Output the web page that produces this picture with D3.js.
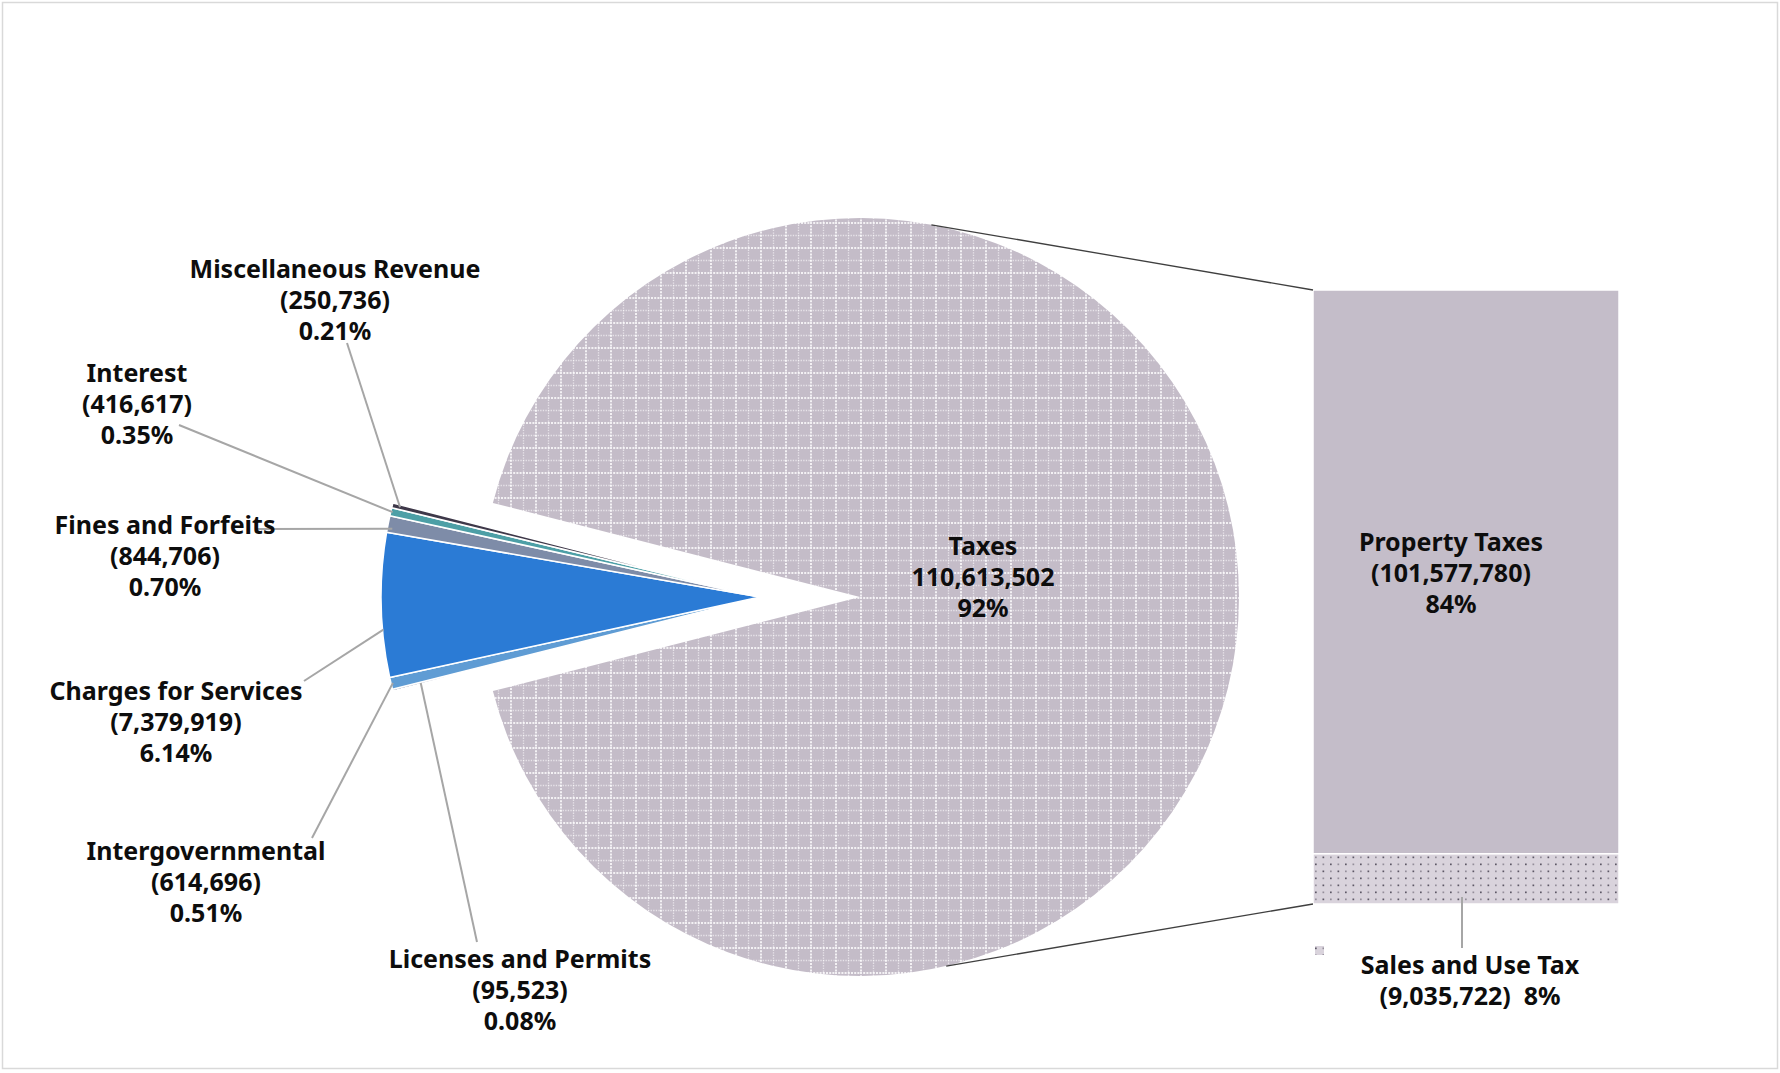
<!DOCTYPE html>
<html>
<head>
<meta charset="utf-8">
<script src="https://cdn.jsdelivr.net/npm/d3@7"></script>
<style>
  html, body { margin: 0; padding: 0; background: #ffffff; }
  svg { display: block; }
  .lbl { font-family: "Noto Sans", "DejaVu Sans", sans-serif; font-weight: 700; fill: #0d0d0d; white-space: pre; }
</style>
</head>
<body>
<script>
// General Fund revenue sources
const categories = ["Licenses and Permits", "Intergovernmental", "Charges for Services",
                    "Fines and Forfeits", "Interest", "Miscellaneous Revenue", "Taxes"];
const values = [95523, 614696, 7379919, 844706, 416617, 250736, 110613502];
const sliceColors = ["#2f3a64", "#5f9cd4", "#2b7bd5", "#7e8ca8", "#4d9fa6", "#3e3849", "url(#gridFill)"];

// Breakdown of the Taxes slice
const taxCategories = ["Property Taxes", "Sales and Use Tax"];
const taxValues = [101577780, 9035722];
const taxColors = ["#c4bdc9", "url(#dotFill)"];

const W = 1780, H = 1073;
const total = d3.sum(values);
const pct2 = d3.format(".2%"), pct0 = d3.format(".0%"), num = d3.format(",");

const svg = d3.select("body").append("svg").attr("width", W).attr("height", H);

// ---- fill patterns ----
const defs = svg.append("defs");
const grid = defs.append("pattern").attr("id", "gridFill")
  .attr("patternUnits", "userSpaceOnUse").attr("width", 25).attr("height", 25);
grid.append("rect").attr("width", 25).attr("height", 25).attr("fill", "#c4bcc8");
[[1, 2, "#f3f1f4", "2 1.2"], [13.5, 1.3, "rgba(255,255,255,0.6)", "1.3 1.3"]].forEach(([p, w, c, da]) => {
  grid.append("line").attr("x1", p).attr("x2", p).attr("y1", 0).attr("y2", 25)
    .attr("stroke", c).attr("stroke-width", w).attr("stroke-dasharray", da);
  grid.append("line").attr("y1", p).attr("y2", p).attr("x1", 0).attr("x2", 25)
    .attr("stroke", c).attr("stroke-width", w).attr("stroke-dasharray", da);
});
const dots = defs.append("pattern").attr("id", "dotFill")
  .attr("patternUnits", "userSpaceOnUse").attr("width", 15).attr("height", 14);
dots.append("rect").attr("width", 15).attr("height", 14).attr("fill", "#d9d3dc");
[[2.5, 2.5, "#5d5866"], [10, 2.5, "#948e9a"], [2.5, 9.5, "#948e9a"], [10, 9.5, "#5d5866"]].forEach(([x, y, c]) => {
  dots.append("rect").attr("x", x).attr("y", y).attr("width", 1.7).attr("height", 1.7).attr("fill", c);
});

// ---- frame ----
svg.append("rect").attr("x", 2.5).attr("y", 2.5).attr("width", W - 5).attr("height", H - 7)
  .attr("fill", "none").attr("stroke", "#d9d9d9").attr("stroke-width", 1.5);

// ---- pie ----
const cx = 860, cy = 597, R = 379, explode = 100;
const smallShare = d3.sum(values.slice(0, 6)) / total;
const a0 = 1.5 * Math.PI - Math.PI * smallShare;
const pie = d3.pie().sort(null).value(d => d.value).startAngle(a0).endAngle(a0 + 2 * Math.PI);
const slices = pie(categories.map((c, i) => ({ name: c, value: values[i], color: sliceColors[i] })));
const arc = d3.arc().innerRadius(0).outerRadius(R);

svg.append("g").selectAll("path").data(slices).join("path")
  .attr("transform", d => d.data.name === "Taxes" ? `translate(${cx},${cy})` : `translate(${cx - explode},${cy})`)
  .attr("d", arc)
  .attr("fill", d => d.data.color)
  .attr("stroke", "#ffffff").attr("stroke-width", d => d.data.name === "Taxes" ? 0 : 1.6)
  .attr("stroke-linejoin", "round");

// ---- bar of the Taxes breakdown ----
const barX = 1313, barW = 306, barTop = 290, barBottom = 904;
const yBar = d3.scaleLinear().domain([0, d3.sum(taxValues)]).range([barTop, barBottom]);
const stacks = d3.cumsum([0, ...taxValues]);
svg.append("g").selectAll("rect").data(taxValues).join("rect")
  .attr("x", barX).attr("width", barW)
  .attr("y", (v, i) => yBar(stacks[i]))
  .attr("height", (v, i) => yBar(stacks[i + 1]) - yBar(stacks[i]))
  .attr("fill", (v, i) => taxColors[i])
  .attr("stroke", "#ffffff").attr("stroke-width", 1.5);

// connector lines from the bar corners to the pie rim
function rimPoint(px, py, upper, skew) {
  const dx = px - cx, dy = py - cy, d = Math.hypot(dx, dy);
  const phi = Math.atan2(dy, dx), t = Math.acos(R / d) - skew;
  const a = upper ? phi - t : phi + t;
  return [cx + R * Math.cos(a), cy + R * Math.sin(a)];
}
[[barTop, true, 0.02], [barBottom, false, 0.06]].forEach(([y, up, sk]) => {
  const [tx, ty] = rimPoint(barX, y, up, sk);
  svg.append("line").attr("x1", tx).attr("y1", ty).attr("x2", barX).attr("y2", y)
    .attr("stroke", "#3f3f3f").attr("stroke-width", 1.3);
});

// ---- leader lines and labels ----
const apexX = cx - explode;
const sliceBy = Object.fromEntries(slices.map(s => [s.data.name, s]));
const leaders = [
  { name: "Miscellaneous Revenue", from: [347, 343], frac: 0.5, r: 371 },
  { name: "Interest", from: [179, 425], frac: 0.5, r: 377 },
  { name: "Fines and Forfeits", from: [256, 529], frac: 0.265, r: 374 },
  { name: "Charges for Services", from: [304, 681], frac: 0.33, r: 378 },
  { name: "Intergovernmental", from: [312, 838], frac: 0.5, r: 377 },
  { name: "Licenses and Permits", from: [477, 942], frac: 0.5, r: 350 }
];
leaders.forEach(l => {
  const s = sliceBy[l.name];
  const a = s.startAngle + (s.endAngle - s.startAngle) * l.frac;
  svg.append("line")
    .attr("x1", l.from[0]).attr("y1", l.from[1])
    .attr("x2", apexX + l.r * Math.sin(a)).attr("y2", cy - l.r * Math.cos(a))
    .attr("stroke", "#a6a6a6").attr("stroke-width", 2);
});

const labelPos = {
  "Miscellaneous Revenue": [335, 268],
  "Interest": [137, 372],
  "Fines and Forfeits": [165, 524],
  "Charges for Services": [176, 690],
  "Intergovernmental": [206, 850],
  "Licenses and Permits": [520, 958],
  "Taxes": [983, 545]
};
const lineGap = 31;
function block(x, y, lines) {
  const t = svg.append("text").attr("class", "lbl").attr("text-anchor", "middle")
    .attr("font-size", 25);
  lines.forEach((s, i) => t.append("tspan").attr("x", x).attr("y", y + i * lineGap)
    .attr("dominant-baseline", "central").text(s));
}
categories.forEach((c, i) => {
  const [x, y] = labelPos[c];
  const share = values[i] / total;
  if (c === "Taxes") block(x, y, [c, num(values[i]), pct0(share)]);
  else block(x, y, [c, `(${num(values[i])})`, pct2(share)]);
});
block(1451, 541, [taxCategories[0], `(${num(taxValues[0])})`, pct0(taxValues[0] / total)]);
block(1470, 964, [taxCategories[1], `(${num(taxValues[1])})  ${pct0(taxValues[1] / total)}`]);

// leader for the sales segment and its small key
svg.append("line").attr("x1", 1462).attr("x2", 1462).attr("y1", barBottom - 7).attr("y2", 948)
  .attr("stroke", "#a6a6a6").attr("stroke-width", 2);
svg.append("rect").attr("x", 1315).attr("y", 946).attr("width", 9).attr("height", 9)
  .attr("fill", "url(#dotFill)");
</script>
</body>
</html>
